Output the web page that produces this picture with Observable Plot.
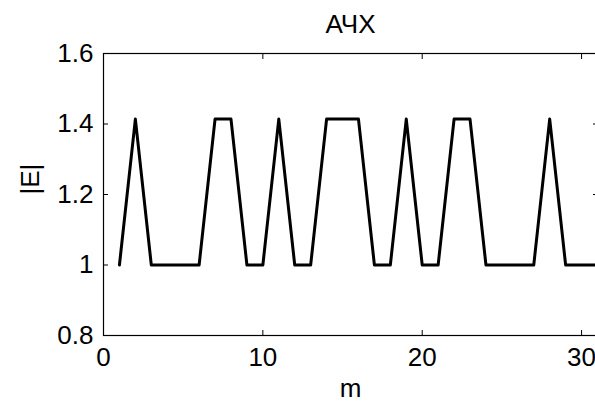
<!DOCTYPE html>
<html>
<head>
<meta charset="utf-8">
<script src="https://cdn.jsdelivr.net/npm/d3@7"></script>
<script src="https://cdn.jsdelivr.net/npm/@observablehq/plot@0.6"></script>
<style>
  html, body { margin: 0; padding: 0; background: #fff; }
  svg { display: block; }
</style>
</head>
<body>
<div id="chart"></div>
<script>
// Amplitude response |E| over harmonic index m
const m = [1, 2, 3, 4, 5, 6, 7, 8, 9, 10, 11, 12, 13, 14, 15, 16,
           17, 18, 19, 20, 21, 22, 23, 24, 25, 26, 27, 28, 29, 30, 31];
const E = [1, 1.414, 1, 1, 1, 1, 1.414, 1.414, 1, 1, 1.414, 1, 1, 1.414, 1.414, 1.414,
           1, 1, 1.414, 1, 1, 1.414, 1.414, 1, 1, 1, 1, 1.414, 1, 1, 1];

const xTicks = [0, 10, 20, 30];
const yTicks = [0.8, 1, 1.2, 1.4, 1.6];

const title = "АЧХ";
const xLabel = "m";
const yLabel = "|E|";

const data = m.map((v, i) => ({m: v, E: E[i]}));

const chart = Plot.plot({
  width: 595,
  height: 405,
  marginLeft: 103,
  marginRight: -2,
  marginTop: 53,
  marginBottom: 70,
  style: {
    fontFamily: "'Liberation Sans', Arial, sans-serif",
    fontSize: "26px",
    color: "#000",
    background: "#fff"
  },
  x: {domain: [0, 31]},
  y: {domain: [0.8, 1.6]},
  marks: [
    Plot.frame({stroke: "#000", strokeWidth: 1.2}),
    // ticks pointing into the plot area on all four sides
    Plot.axisX(xTicks, {anchor: "bottom", tickSize: 5, dy: -5, text: null, label: null}),
    Plot.axisX(xTicks, {anchor: "top", tickSize: 5, dy: 5, text: null, label: null}),
    Plot.axisY(yTicks, {anchor: "left", tickSize: 5, dx: 5, text: null, label: null}),
    Plot.axisY(yTicks, {anchor: "right", tickSize: 5, dx: -5, text: null, label: null}),
    // tick labels
    Plot.axisX(xTicks, {anchor: "bottom", tickSize: 0, tickPadding: 12, label: null,
                        tickFormat: d => String(d)}),
    Plot.axisY(yTicks, {anchor: "left", tickSize: 0, tickPadding: 10, label: null,
                        tickFormat: d => String(d)}),
    Plot.line(data, {x: "m", y: "E", stroke: "#000", strokeWidth: 3,
                     strokeLinejoin: "round"}),
    Plot.text([title], {frameAnchor: "top", lineAnchor: "middle", dy: -29, text: d => d, fill: "#000"}),
    Plot.text([xLabel], {frameAnchor: "bottom", lineAnchor: "middle", dy: 53, text: d => d, fill: "#000"}),
    Plot.text([yLabel], {frameAnchor: "left", lineAnchor: "middle", dx: -73, rotate: -90, text: d => d, fill: "#000"})
  ]
});

document.getElementById("chart").appendChild(chart);
</script>
</body>
</html>
